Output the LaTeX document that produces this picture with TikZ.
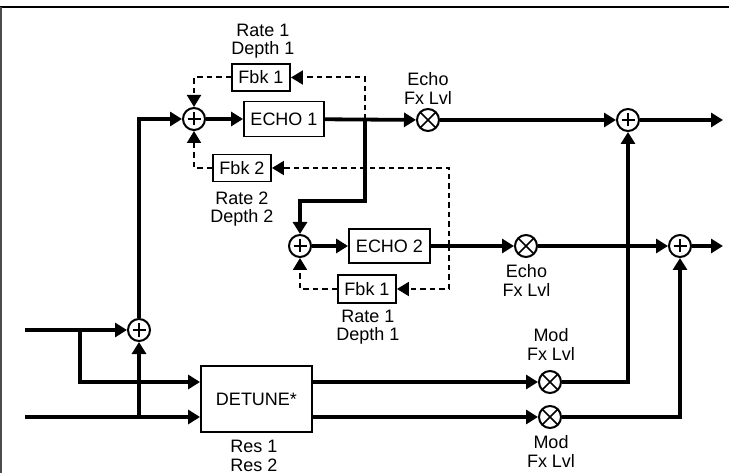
\documentclass[tikz,border=0pt]{standalone}
\usepackage{fontspec}
\setmainfont{Liberation Sans}
\usetikzlibrary{arrows.meta}
\begin{document}
\begin{tikzpicture}[x=1bp, y=-1bp, >={Triangle[length=12bp,width=14bp]},
  font=\fontsize{18bp}{18.5bp}\selectfont,
  sig/.style={line width=3.8bp, ->},
  fb/.style={line width=2bp, dash pattern=on 5.5bp off 4bp, ->},
  box/.style={draw, line width=1.9bp, inner sep=0pt},
  lbl/.style={align=center, inner sep=0pt},
  sum/.style={circle, draw, line width=2bp, minimum size=22bp, inner sep=0pt,
    path picture={\draw [line width=1.7bp] (path picture bounding box.center)
      +(-6.5bp,0) -- +(6.5bp,0) +(0,-6.5bp) -- +(0,6.5bp);}},
  mul/.style={circle, draw, line width=2bp, minimum size=22bp, inner sep=0pt,
    path picture={\draw [line width=1.7bp]
      (path picture bounding box.north west) -- (path picture bounding box.south east)
      (path picture bounding box.north east) -- (path picture bounding box.south west);}}]
\useasboundingbox (0, 0) rectangle (729, 473);
\draw [line width=2.5bp] (0, 7) -- (729, 7);
\draw [line width=1.2bp, black!70] (1, 7) -- (1, 473);
% first echo
\node [sum] (sumIn) at (139, 330) {};
\node [sum] (sumA) at (194, 119) {};
\node [box, minimum width=80bp, minimum height=35bp] (echoA) at (284, 119) {ECHO 1};
\node [box, minimum width=58bp, minimum height=27bp] (fbkA) at (261, 77.5) {Fbk 1};
\node [lbl] (rateA) at (263, 41) {Rate 1\\Depth 1};
\node [box, minimum width=58bp, minimum height=27bp] (fbkB) at (242, 168) {Fbk 2};
\node [lbl] (rateB) at (242, 209) {Rate 2\\Depth 2};
\node [mul] (lvlA) at (428, 120) {};
\node [lbl] (echoLblA) at (428, 88.5) {Echo\\Fx Lvl};
% second echo
\node [sum] (sumB) at (300, 246) {};
\node [box, minimum width=81bp, minimum height=34bp] (echoB) at (389.5, 246) {ECHO 2};
\node [box, minimum width=58bp, minimum height=28bp] (fbkC) at (367, 289) {Fbk 1};
\node [lbl] (rateC) at (368, 327) {Rate 1\\Depth 1};
\node [mul] (lvlB) at (526, 246) {};
\node [lbl] (echoLblB) at (526.5, 280.5) {Echo\\Fx Lvl};
% detune and mixers
\node [box, minimum width=111bp, minimum height=66bp] (detune) at (256.5, 399) {DETUNE*};
\node [lbl] (res) at (254, 456) {Res 1\\Res 2};
\node [mul] (modA) at (550, 382) {};
\node [lbl] (modLblA) at (551, 344.5) {Mod\\Fx Lvl};
\node [mul] (modB) at (550, 417) {};
\node [lbl] (modLblB) at (551, 451.5) {Mod\\Fx Lvl};
\node [sum] (sumC) at (628, 120) {};
\node [sum] (sumD) at (680, 246) {};
\coordinate (inA) at (25, 330);   \coordinate (inB) at (25, 417);
\coordinate (splitA) at (80, 330); \coordinate (splitB) at (139, 417);
\coordinate (tapA) at (365, 120);  \coordinate (bendA) at (365, 201);
\coordinate (tapB) at (449, 246);
\coordinate (outA) at (723, 120);  \coordinate (outB) at (723, 246);
% signal paths
\draw [sig] (inA) -- (sumIn);
\draw [sig] (splitA) |- ([yshift=17bp]detune.west);
\draw [sig] (inB) -- ([yshift=-18bp]detune.west);
\draw [sig] (splitB) -- (sumIn);
\draw [sig] (sumIn) |- (sumA);
\draw [sig] (sumA) -- (echoA);
\draw [sig] (echoA) -- (lvlA);
\draw [sig] (lvlA) -- (sumC);
\draw [sig] (sumC) -- (outA);
\draw [sig] (tapA) -- (bendA) -| (sumB);
\draw [sig] (sumB) -- (echoB);
\draw [sig] (echoB) -- (lvlB);
\draw [sig] (lvlB) -- (sumD);
\draw [sig] (sumD) -- (outB);
\draw [sig] ([yshift=17bp]detune.east) -- (modA);
\draw [sig] ([yshift=-18bp]detune.east) -- (modB);
\draw [sig] (modA) -| (sumC);
\draw [sig] (modB) -| (sumD);
% feedback
\draw [fb] (tapA) |- (fbkA);
\draw [fb] (fbkA) -| (sumA);
\draw [fb] (fbkB) -| (sumA);
\draw [fb] (tapB) |- (fbkB);
\draw [fb] (tapB) |- (fbkC);
\draw [fb] (fbkC) -| (sumB);
\end{tikzpicture}
\end{document}
